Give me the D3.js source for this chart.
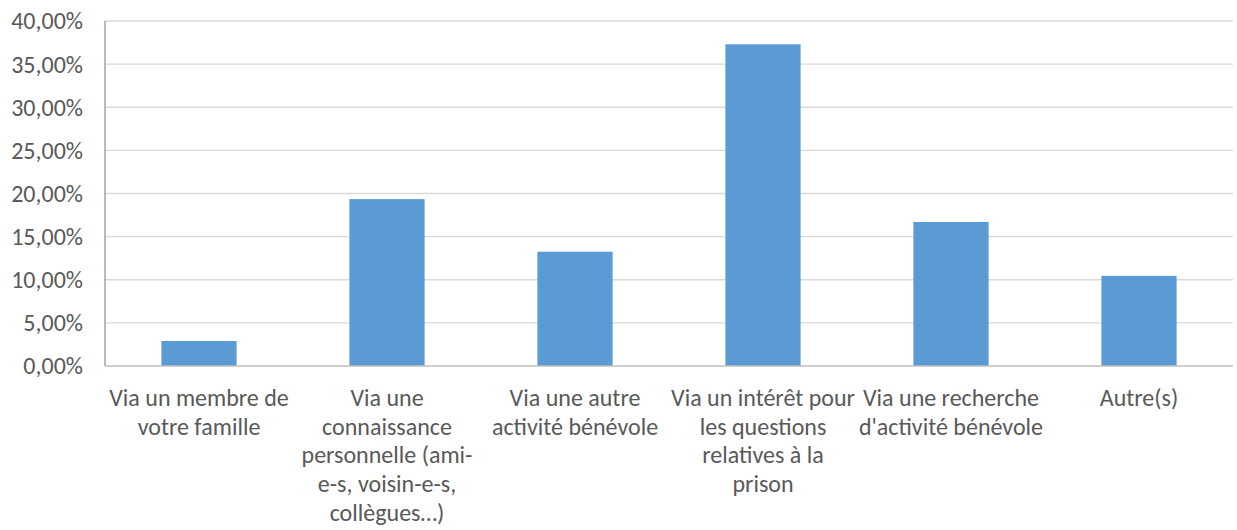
<!DOCTYPE html>
<html>
<head>
<meta charset="utf-8">
<script src="https://cdn.jsdelivr.net/npm/d3@7"></script>
<style>
  body { margin: 0; background: #fff; }
  text { font-family: Carlito, "Liberation Sans Narrow", "Liberation Sans", sans-serif; fill: #595959; }
</style>
</head>
<body>
<svg id="chart" width="1237" height="530"></svg>
<script>
// categories, one entry per bar, split in the lines shown under the axis
var categories = [
    ['Via un membre de', 'votre famille'],
    ['Via une', 'connaissance', 'personnelle (ami-', 'e-s, voisin-e-s,', 'collègues…)'],
    ['Via une autre', 'activité bénévole'],
    ['Via un intérêt pour', 'les questions', 'relatives à la', 'prison'],
    ['Via une recherche', "d'activité bénévole"],
    ['Autre(s)']
];
var values = [2.9, 19.35, 13.25, 37.3, 16.7, 10.45];
var yTicks = [0, 5, 10, 15, 20, 25, 30, 35, 40];

var svg = d3.select('#chart');
var margin = {left: 105, right: 4, top: 21, bottom: 164};
var w = 1237 - margin.left - margin.right;
var h = 530 - margin.top - margin.bottom;

var x = d3.scaleBand()
    .domain(d3.range(categories.length))
    .range([0, w])
    .paddingInner(0.6)
    .paddingOuter(0.3);
var y = d3.scaleLinear().domain([0, 40]).range([h, 0]);

var g = svg.append('g').attr('transform', 'translate(' + margin.left + ',' + margin.top + ')');

// gridlines
g.selectAll('.grid').data(yTicks.slice(1)).enter().append('line')
    .attr('x1', 0).attr('x2', w)
    .attr('y1', function (d) { return y(d); })
    .attr('y2', function (d) { return y(d); })
    .attr('stroke', '#d9d9d9')
    .attr('stroke-width', 1.3);

var fmt = function (d) { return d3.format('.2f')(d).replace('.', ',') + '%'; };
g.selectAll('.ylab').data(yTicks).enter().append('text')
    .attr('x', -22)
    .attr('y', function (d) { return y(d); })
    .attr('dy', '0.35em')
    .attr('text-anchor', 'end')
    .style('font-size', '24px')
    .text(fmt);

// bars
g.selectAll('.bar').data(values).enter().append('rect')
    .attr('x', function (d, i) { return x(i); })
    .attr('y', function (d) { return y(d); })
    .attr('width', x.bandwidth())
    .attr('height', function (d) { return h - y(d); })
    .attr('fill', '#5b9bd5');

// axis lines
g.append('line').attr('x1', 0).attr('x2', 0).attr('y1', 0).attr('y2', h)
    .attr('stroke', '#8c8c8c').attr('stroke-width', 1.2);
g.append('line').attr('x1', 0).attr('x2', w).attr('y1', h).attr('y2', h)
    .attr('stroke', '#bfbfbf').attr('stroke-width', 1.3);

// category labels
var lab = g.selectAll('.xlab').data(categories).enter().append('text')
    .attr('text-anchor', 'middle')
    .attr('transform', function (d, i) { return 'translate(' + (x(i) + x.bandwidth() / 2) + ',' + (h + 40) + ')'; })
    .style('font-size', '24px');
lab.selectAll('tspan').data(function (d) { return d; }).enter().append('tspan')
    .attr('x', 0)
    .attr('dy', function (d, i) { return i ? 28.7 : 0; })
    .text(function (d) { return d; });
</script>
</body>
</html>
